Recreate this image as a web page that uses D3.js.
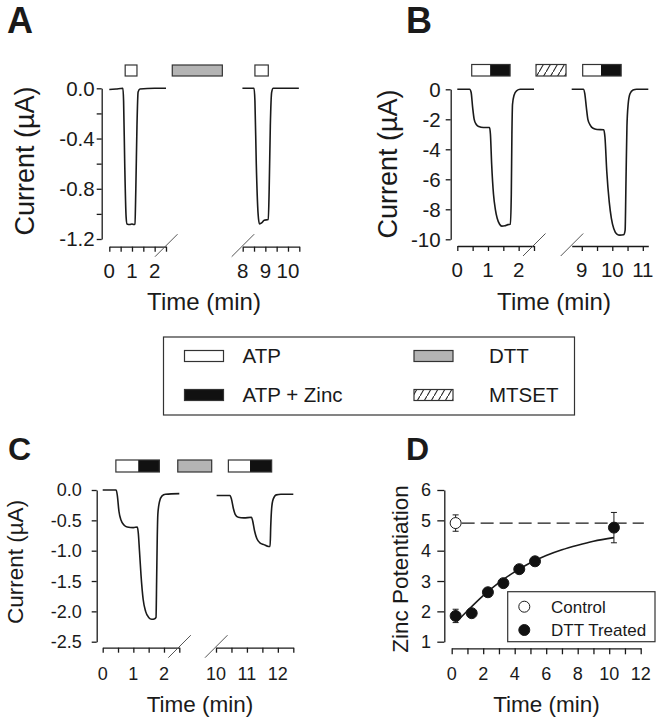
<!DOCTYPE html>
<html><head><meta charset="utf-8">
<script src="https://cdn.jsdelivr.net/npm/d3@7"></script>
<style>
body{margin:0;background:#fff}
svg{display:block}
text{font-family:"Liberation Sans",Arial,Helvetica,sans-serif;fill:#1a1a1a}
</style>
</head><body>
<svg id="c" width="660" height="720"></svg>
<script>
// ================= DATA =================
const legendLabels = ["ATP", "DTT", "ATP + Zinc", "MTSET"];
const legendKinds  = ["atp", "dtt", "zn", "mts"];

// Panel A
const aSegments = [[0, 2.5], [8, 10.5]];
const aYTicks = [0, -0.4, -0.8, -1.2];
const aYMinor = [-0.2, -0.6, -1.0];
const aTrace1 = [[0,-0.01],[0.3,-0.005],[0.6,0],[0.63,-0.1],[0.68,-0.6],[0.74,-1.02],[0.78,-1.08],[0.9,-1.085],[1.0,-1.08],[1.08,-1.085],[1.13,-1.08],[1.17,-0.8],[1.22,-0.3],[1.27,-0.03],[1.35,-0.005],[2.0,0],[2.5,0]];
const aTrace2 = [[7.98,0],[8.5,0],[8.54,-0.1],[8.6,-0.6],[8.68,-1.0],[8.74,-1.08],[8.85,-1.07],[8.95,-1.05],[9.13,-1.045],[9.17,-0.8],[9.22,-0.3],[9.28,-0.03],[9.35,0],[10.48,0]];
const aBars = [{kind:"atp",from:0.7,to:1.22},{kind:"dtt",from:2.95,to:6.54},{kind:"atp",from:8.54,to:9.13}];

// Panel B
const bSegments = [[0, 2.5], [8.67, 11.18]];
const bYTicks = [0, -2, -4, -6, -8, -10];
const bYMinor = [];
const bTrace1 = [[0,0],[0.4,0],[0.45,-0.2],[0.5,-1.2],[0.55,-2.0],[0.62,-2.35],[0.7,-2.48],[0.85,-2.55],[1.05,-2.55],[1.08,-3.0],[1.12,-5],[1.18,-7],[1.24,-8.0],[1.3,-8.6],[1.38,-9.0],[1.45,-9.12],[1.55,-9.1],[1.65,-9.02],[1.73,-9.0],[1.76,-7],[1.78,-3],[1.8,-1],[1.85,-0.4],[1.93,-0.1],[2.05,0],[2.5,0]];
const bTrace2 = [[8.67,0],[9.05,0],[9.1,-0.3],[9.15,-1.2],[9.2,-2.0],[9.28,-2.4],[9.37,-2.6],[9.5,-2.68],[9.72,-2.7],[9.76,-3.2],[9.82,-5.5],[9.9,-7.5],[9.97,-8.6],[10.05,-9.3],[10.15,-9.65],[10.25,-9.72],[10.37,-9.7],[10.42,-9.4],[10.45,-6],[10.48,-2.5],[10.52,-1.0],[10.58,-0.3],[10.68,-0.05],[10.8,0],[11.18,0]];
const bBars = [{kind:"zn",from:0.47,mid:1.07,to:1.72},{kind:"mts",from:2.83,to:7.74},{kind:"zn",from:9.03,mid:9.63,to:10.29}];

// Panel C
const cSegments = [[0, 2.5], [10, 12.5]];
const cYTicks = [0, -0.5, -1.0, -1.5, -2.0, -2.5];
const cYMinor = [];
const cTrace1 = [[0,0],[0.44,0],[0.48,-0.1],[0.53,-0.35],[0.6,-0.5],[0.7,-0.58],[0.8,-0.61],[1.0,-0.62],[1.13,-0.61],[1.16,-0.7],[1.2,-1.0],[1.25,-1.4],[1.32,-1.8],[1.4,-2.0],[1.5,-2.1],[1.6,-2.13],[1.7,-2.12],[1.74,-2.1],[1.76,-1.5],[1.78,-0.8],[1.8,-0.4],[1.85,-0.2],[1.93,-0.1],[2.05,-0.07],[2.5,-0.06]];
const cTrace2 = [[10.02,-0.09],[10.45,-0.09],[10.5,-0.15],[10.56,-0.3],[10.62,-0.4],[10.72,-0.45],[10.9,-0.46],[11.15,-0.45],[11.19,-0.52],[11.25,-0.68],[11.32,-0.8],[11.42,-0.87],[11.55,-0.9],[11.7,-0.93],[11.75,-0.93],[11.77,-0.6],[11.8,-0.3],[11.85,-0.15],[11.95,-0.08],[12.1,-0.07],[12.5,-0.07]];
const cBars = [{kind:"zn",from:0.43,mid:1.16,to:1.85},{kind:"dtt",from:2.45,to:9.12},{kind:"zn",from:10.4,mid:11.1,to:11.8}];

// Panel D
const dXTicks = [0,1,2,3,4,5,6,7,8,9,10,11,12];
const dYTicks = [1,2,3,4,5,6];
const controlTime = [0.25];
const controlValue = [4.91];
const controlErr = [0.27];
const dttTime = [0.25, 1.27, 2.3, 3.28, 4.29, 5.29, 10.3];
const dttValue = [1.85, 1.94, 2.63, 2.93, 3.39, 3.65, 4.76];
const dttErr = [0.22, 0, 0, 0, 0, 0, 0.5];
const fitCurve = [[0.32,1.66],[1,2.02],[2,2.52],[3,2.95],[4,3.3],[5,3.6],[6,3.84],[7,4.03],[8,4.18],[9,4.31],[10.3,4.43]];
const dashEnd = [12.2];
const dLegend = ["Control", "DTT Treated"];

// ================= DRAW =================
const svg = d3.select("#c");
const INK = "#1a1a1a";

// hatch pattern
const defs = svg.append("defs");
const pat = defs.append("pattern").attr("id","hatch").attr("patternUnits","userSpaceOnUse")
  .attr("width",7).attr("height",12);
pat.append("rect").attr("width",7).attr("height",12).attr("fill","#fff");
pat.append("path").attr("d","M-1.75,15 L8.75,-3").attr("stroke","#222").attr("stroke-width",1.1);

function fillFor(kind){
  return kind==="atp" ? "#fff" : kind==="dtt" ? "#b4b4b4" : kind==="mts" ? "url(#hatch)" : "#111";
}

function drawBar(g, x0, x1, xm, y, h, kind){
  if (kind === "zn") {
    g.append("rect").attr("x",x0).attr("y",y).attr("width",xm-x0).attr("height",h).attr("fill","#fff");
    g.append("rect").attr("x",xm).attr("y",y).attr("width",x1-xm).attr("height",h).attr("fill","#111");
    g.append("rect").attr("x",x0).attr("y",y).attr("width",x1-x0).attr("height",h)
      .attr("fill","none").attr("stroke","#333").attr("stroke-width",1.2);
  } else {
    g.append("rect").attr("x",x0).attr("y",y).attr("width",x1-x0).attr("height",h)
      .attr("fill",fillFor(kind)).attr("stroke","#333").attr("stroke-width",1.2);
  }
}

function tracePanel(cfg){
  const g = svg.append("g");
  const segs = cfg.segments;
  const x = d3.scaleLinear()
    .domain([segs[0][0], segs[0][1], segs[1][0], segs[1][1]])
    .range(cfg.xRange);
  const y = d3.scaleLinear().domain([cfg.yTicks[cfg.yTicks.length-1], cfg.yTicks[0]]).range(cfg.yRange);

  // y axis
  const ya = g.append("g").attr("transform",`translate(${cfg.yAxisX},0)`)
    .call(d3.axisLeft(y).tickValues(cfg.yTicks).tickSize(cfg.tick).tickSizeOuter(0).tickFormat(""));
  ya.append("g").call(d3.axisLeft(y).tickValues(cfg.yMinor).tickSize(cfg.tick).tickSizeOuter(0).tickFormat(""))
    .select(".domain").remove();
  g.selectAll(".domain, .tick line").attr("stroke",INK).attr("stroke-width",1.3);
  g.append("g").selectAll("text").data(cfg.yTicks).join("text")
    .attr("x", cfg.yAxisX - cfg.yLabGap).attr("y", d => y(d)).attr("dy","0.36em")
    .attr("text-anchor","end").attr("font-size",cfg.tickFont)
    .text(d => cfg.fmt(d));

  // x axis segments
  segs.forEach(s => {
    const sx = d3.scaleLinear().domain(s).range([x(s[0]), x(s[1])]);
    const tv = d3.range(Math.ceil(s[0]*2)/2, s[1]+1e-6, 0.5);
    const xa = g.append("g").attr("transform",`translate(0,${cfg.xAxisY})`)
      .call(d3.axisBottom(sx).tickValues(tv).tickSize(cfg.tick).tickSizeOuter(0).tickFormat(""));
    xa.selectAll(".domain, .tick line").attr("stroke",INK).attr("stroke-width",1.3);
    g.append("g").selectAll("text").data(tv.filter(v => Number.isInteger(v))).join("text")
      .attr("x", d => sx(d)).attr("y", cfg.xAxisY + cfg.xLabOff)
      .attr("text-anchor","middle").attr("font-size",cfg.tickFont).text(d => d);
  });
  // break marks
  [x(segs[0][1]), x(segs[1][0])].forEach(bx => {
    g.append("line").attr("x1",bx-11).attr("y1",cfg.xAxisY+10).attr("x2",bx+11.5).attr("y2",cfg.xAxisY-12.5)
      .attr("stroke","#555").attr("stroke-width",1);
  });

  // traces
  const line = d3.line().x(d => x(d[0])).y(d => y(d[1])).curve(d3.curveMonotoneX);
  cfg.traces.forEach(tr => {
    g.append("path").attr("d", line(tr)).attr("fill","none").attr("stroke",INK).attr("stroke-width",1.6);
  });

  // bars
  cfg.bars.forEach(b => {
    drawBar(g, x(b.from), x(b.to), b.mid!==undefined ? x(b.mid) : null, cfg.barY, cfg.barH, b.kind);
  });

  // labels
  g.append("text").attr("transform",`translate(${cfg.yTitleX},${cfg.yTitleY}) rotate(-90)`)
    .attr("text-anchor","middle").attr("dy","0.35em").attr("font-size",cfg.yTitleFont).text("Current (µA)");
  g.append("text").attr("x",cfg.xTitleX).attr("y",cfg.xTitleY)
    .attr("text-anchor","middle").attr("font-size",cfg.titleFont).text("Time (min)");
  g.append("text").attr("x",cfg.letterX).attr("y",cfg.letterY)
    .attr("font-size",cfg.letterFont).attr("font-weight","bold").text(cfg.letter);
}

tracePanel({
  letter:"A", letterX:7, letterY:33, letterFont:36,
  segments:aSegments, xRange:[109.3,166,242.7,299.3], xAxisY:246.7,
  yTicks:aYTicks, yMinor:aYMinor, yRange:[239,88.3], yAxisX:101.7,
  fmt:d => d.toFixed(1), tick:5, tickFont:20.5, yLabGap:7, xLabOff:31,
  traces:[aTrace1,aTrace2], bars:aBars, barY:65, barH:11,
  titleFont:24, yTitleFont:27, yTitleX:25, yTitleY:161, xTitleX:204, xTitleY:310
});
tracePanel({
  letter:"B", letterX:406, letterY:33, letterFont:36,
  segments:bSegments, xRange:[457.3,534,571.7,648.3], xAxisY:246,
  yTicks:bYTicks, yMinor:bYMinor, yRange:[239.3,89.3], yAxisX:450.7,
  fmt:d => String(d), tick:5, tickFont:20.5, yLabGap:10, xLabOff:31,
  traces:[bTrace1,bTrace2], bars:bBars, barY:64.5, barH:11.5,
  titleFont:24, yTitleFont:27, yTitleX:388, yTitleY:164, xTitleX:554, xTitleY:310
});
tracePanel({
  letter:"C", letterX:8, letterY:460, letterFont:32,
  segments:cSegments, xRange:[102.7,179.3,216,293.3], xAxisY:647.7,
  yTicks:cYTicks, yMinor:cYMinor, yRange:[641.7,490], yAxisX:96.7,
  fmt:d => d.toFixed(1), tick:5, tickFont:18, yLabGap:15, xLabOff:32,
  traces:[cTrace1,cTrace2], bars:cBars, barY:460, barH:12,
  titleFont:22.5, yTitleFont:22.5, yTitleX:15, yTitleY:562, xTitleX:200, xTitleY:712
});

// ----- Main legend -----
(function(){
  const g = svg.append("g");
  g.append("rect").attr("x",163.5).attr("y",337).attr("width",411).attr("height",78)
    .attr("fill","#fff").attr("stroke","#333").attr("stroke-width",1.2);
  const colX = [184.5, 414];
  const rowY = [356, 395];
  legendKinds.forEach((k,i) => {
    const cx = colX[i%2], cy = rowY[Math.floor(i/2)];
    drawBar(g, cx, cx+39, null, cy-5.5, 11, k === "zn" ? "znsolid" : k);
    g.append("text").attr("x", cx + (i%2 ? 75 : 58)).attr("y", cy).attr("dy","0.36em")
      .attr("font-size",20.5).text(legendLabels[i]);
  });
})();

// ----- Panel D -----
(function(){
  const g = svg.append("g");
  const x = d3.scaleLinear().domain([0,12]).range([451.7,640.7]);
  const y = d3.scaleLinear().domain([1,6]).range([641.7,490]);
  g.append("g").attr("transform","translate(0,648.3)")
    .call(d3.axisBottom(x).tickValues(dXTicks).tickSize(6).tickSizeOuter(0).tickFormat(""));
  g.append("g").attr("transform","translate(444.3,0)")
    .call(d3.axisLeft(y).tickValues(dYTicks).tickSize(7).tickSizeOuter(0).tickFormat(""));
  g.selectAll(".domain, .tick line").attr("stroke",INK).attr("stroke-width",1.3);
  g.append("g").selectAll("text").data(dXTicks.filter(v => v%2===0)).join("text")
    .attr("x", d => x(d)).attr("y", 680).attr("text-anchor","middle").attr("font-size",18).text(d => d);
  g.append("g").selectAll("text").data(dYTicks).join("text")
    .attr("x", 431).attr("y", d => y(d)).attr("dy","0.36em").attr("text-anchor","end").attr("font-size",18).text(d => d);

  // dashed control line
  g.append("line").attr("x1", x(controlTime[0])+6).attr("x2", x(dashEnd[0]))
    .attr("y1", y(controlValue[0])).attr("y2", y(controlValue[0]))
    .attr("stroke",INK).attr("stroke-width",1.3).attr("stroke-dasharray","13,6");
  // fit curve
  g.append("path").attr("d", d3.line().x(d=>x(d[0])).y(d=>y(d[1])).curve(d3.curveMonotoneX)(fitCurve))
    .attr("fill","none").attr("stroke",INK).attr("stroke-width",1.6);

  function errBars(ts, vs, es){
    ts.forEach((t,i) => {
      if (!es[i]) return;
      const cx = x(t);
      g.append("line").attr("x1",cx).attr("x2",cx).attr("y1",y(vs[i]-es[i])).attr("y2",y(vs[i]+es[i]))
        .attr("stroke",INK).attr("stroke-width",1);
      [vs[i]-es[i], vs[i]+es[i]].forEach(v => g.append("line").attr("x1",cx-3).attr("x2",cx+3)
        .attr("y1",y(v)).attr("y2",y(v)).attr("stroke",INK).attr("stroke-width",1));
    });
  }
  errBars(controlTime, controlValue, controlErr);
  errBars(dttTime, dttValue, dttErr);
  g.append("g").selectAll("circle").data(controlTime).join("circle")
    .attr("cx", d => x(d)).attr("cy", (d,i) => y(controlValue[i])).attr("r",5.5)
    .attr("fill","#fff").attr("stroke",INK).attr("stroke-width",1);
  g.append("g").selectAll("circle").data(dttTime).join("circle")
    .attr("cx", d => x(d)).attr("cy", (d,i) => y(dttValue[i])).attr("r",5.5)
    .attr("fill","#111").attr("stroke",INK).attr("stroke-width",1);

  // legend
  g.append("rect").attr("x",507.7).attr("y",591.7).attr("width",147.3).attr("height",50)
    .attr("fill","#fff").attr("stroke","#333").attr("stroke-width",1.2);
  dLegend.forEach((lab,i) => {
    const cy = 606.7 + i*23.3;
    g.append("circle").attr("cx",524.3).attr("cy",cy).attr("r",5.5)
      .attr("fill", i ? "#111" : "#fff").attr("stroke",INK).attr("stroke-width",1);
    g.append("text").attr("x",551).attr("y",cy).attr("dy","0.36em").attr("font-size",17).text(lab);
  });

  g.append("text").attr("transform","translate(400,569) rotate(-90)").attr("text-anchor","middle")
    .attr("dy","0.35em").attr("font-size",22.5).text("Zinc Potentiation");
  g.append("text").attr("x",546.5).attr("y",712).attr("text-anchor","middle").attr("font-size",22.5).text("Time (min)");
  g.append("text").attr("x",406).attr("y",460).attr("font-size",32).attr("font-weight","bold").text("D");
})();
</script>
</body></html>
